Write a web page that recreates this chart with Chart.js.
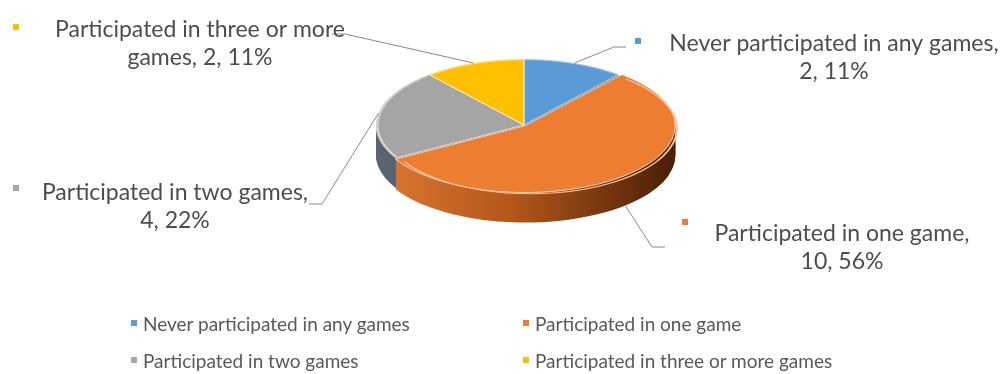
<!DOCTYPE html>
<html>
<head>
<meta charset="utf-8">
<script src="https://cdn.jsdelivr.net/npm/chart.js@4"></script>
<style>
  body { margin: 0; background: #fff; }
  .wrap { position: relative; width: 1000px; height: 374px; }
  #legend {
    position: absolute; left: 131px; top: 311px;
    display: grid; grid-template-columns: 392px auto; row-gap: 13px;
    font: 19px Lato, sans-serif; color: #595959;
  }
  .key { display: flex; align-items: center; height: 24px; white-space: nowrap; }
  .key i { width: 6px; height: 6px; margin-right: 6px; display: inline-block; }
</style>
</head>
<body>
<div class="wrap">
  <canvas id="pie"></canvas>
  <div id="legend"></div>
</div>
<script>
const categories = [
    "Never participated in any games",
    "Participated in one game",
    "Participated in two games",
    "Participated in three or more games",
];
const counts = [2, 10, 4, 2];
const colors = ["#5b9bd5", "#ed7d31", "#a5a5a5", "#ffc000"];
const rimColors = ["#9cc3e8", "#f8c09a", "#d2d2d2", "#ffe08a"];
const explode = [0, 8, 0, 0];

// pie tilt settings
const squash = 0.446;
const depth = 30;
const faceCenterY = 125;

// where each data label sits: text centre, key square, leader elbow
const labelSpots = [
    { tx: 834, ty: 44, mx: 638, my: 41, knee: [[614, 47], [626, 47]] },
    { tx: 842, ty: 234, mx: 685, my: 222, knee: [[652, 247], [665, 247]] },
    { tx: 175, ty: 193, mx: 16, my: 188, knee: [[322, 204], [309, 204]] },
    { tx: 200, ty: 30, mx: 16, my: 27, knee: [[345, 34], [332, 34]] },
];
const labelFont = "23px Lato, sans-serif";
const labelMaxWidth = 345;
const lineGap = 28;

const total = counts.reduce((a, b) => a + b, 0);

function wallFill(ctx, arc, i) {
    const r = arc.outerRadius;
    const g = ctx.createLinearGradient(arc.x - r, 0, arc.x + r, 0);
    if (i === 1) {
        g.addColorStop(0, "#dc7832");
        g.addColorStop(0.45, "#b4571b");
        g.addColorStop(1, "#4a1f06");
    } else if (i === 2) {
        g.addColorStop(0, "#5a6571");
        g.addColorStop(1, "#3b4a5a");
    } else if (i === 0) {
        g.addColorStop(0, "#3d6f9e");
        g.addColorStop(1, "#2c5479");
    } else {
        g.addColorStop(0, "#b88a00");
        g.addColorStop(1, "#8a6700");
    }
    return g;
}

// same shift that the arc element applies for its offset
function arcShift(arc, off) {
    const fix = 1 - Math.sin(Math.min(Math.PI, arc.circumference));
    return off / 4 + off * fix;
}

const tiltPlugin = {
    id: "tilt",
    beforeDatasetsDraw(chart) {
        const ctx = chart.ctx;
        const arcs = chart.getDatasetMeta(0).data;
        const cy = arcs[0].y;
        ctx.save();
        ctx.translate(0, faceCenterY);
        ctx.scale(1, squash);
        ctx.translate(0, -cy);
        // side walls: stacked copies of each slice pushed downwards
        for (let d = depth; d > 0; d--) {
            ctx.save();
            ctx.translate(0, d / squash);
            arcs.forEach((arc, i) => {
                const wall = Object.create(arc);
                wall.options = Object.assign({}, arc.options, {
                    backgroundColor: wallFill(ctx, arc, i),
                    borderWidth: 0,
                });
                wall.draw(ctx);
            });
            ctx.restore();
        }
    },
    afterDatasetsDraw(chart) {
        const ctx = chart.ctx;
        const arcs = chart.getDatasetMeta(0).data;
        // light bevel along the outer edge of each top face
        arcs.forEach((arc, i) => {
            const mid = (arc.startAngle + arc.endAngle) / 2;
            const s = arcShift(arc, explode[i]);
            ctx.save();
            ctx.translate(Math.cos(mid) * s, Math.sin(mid) * s);
            ctx.strokeStyle = rimColors[i];
            ctx.lineWidth = 2.2;
            ctx.beginPath();
            ctx.arc(arc.x, arc.y, arc.outerRadius - 1.5, arc.startAngle + 0.01, arc.endAngle - 0.01);
            ctx.stroke();
            ctx.restore();
        });
        ctx.restore();
    },
};

function wrapText(ctx, text, maxW) {
    const words = text.split(" ");
    const lines = [];
    let line = "";
    for (const w of words) {
        const test = line ? line + " " + w : w;
        if (line && ctx.measureText(test).width > maxW) {
            lines.push(line);
            line = w;
        } else {
            line = test;
        }
    }
    lines.push(line);
    return lines;
}

const labelPlugin = {
    id: "sliceLabels",
    afterDraw(chart) {
        const ctx = chart.ctx;
        const arcs = chart.getDatasetMeta(0).data;
        ctx.save();
        ctx.font = labelFont;
        arcs.forEach((arc, i) => {
            const spot = labelSpots[i];
            const mid = (arc.startAngle + arc.endAngle) / 2;
            const r = arc.outerRadius + arcShift(arc, explode[i]);
            const ax = arc.x + Math.cos(mid) * r;
            let ay = faceCenterY + Math.sin(mid) * r * squash;
            if (Math.sin(mid) > 0.2) ay += depth * 0.9;

            ctx.strokeStyle = "#8a8a8a";
            ctx.lineWidth = 1;
            ctx.beginPath();
            ctx.moveTo(ax, ay);
            spot.knee.forEach(p => ctx.lineTo(p[0], p[1]));
            ctx.stroke();

            ctx.fillStyle = colors[i];
            ctx.fillRect(spot.mx - 3, spot.my - 3, 6, 6);

            const pct = Math.round(counts[i] / total * 100);
            const text = `${categories[i]}, ${counts[i]}, ${pct}%`;
            const maxW = Math.min(ctx.measureText(categories[i] + ",").width + 2, labelMaxWidth);
            const lines = wrapText(ctx, text, maxW);
            ctx.fillStyle = "#4d4d4d";
            ctx.textAlign = "center";
            ctx.textBaseline = "middle";
            lines.forEach((ln, k) => ctx.fillText(ln, spot.tx, spot.ty + k * lineGap));
        });
        ctx.restore();
    },
};

new Chart(document.querySelector("#pie"), {
    type: "pie",
    data: {
        labels: categories,
        datasets: [
            {
                data: counts,
                backgroundColor: colors,
                borderColor: "#ffffff",
                borderWidth: 1,
                offset: explode,
                radius: 148,
            },
        ],
    },
    options: {
        responsive: true,
        maintainAspectRatio: false,
        animation: false,
        events: [],
        layout: { padding: { left: 48 } },
        plugins: {
            legend: { display: false },
            tooltip: { enabled: false },
        },
    },
    plugins: [tiltPlugin, labelPlugin],
});

const legend = document.querySelector("#legend");
categories.forEach((name, i) => {
    const item = document.createElement("div");
    item.className = "key";
    item.innerHTML = `<i style="background:${colors[i]}"></i>${name}`;
    legend.appendChild(item);
});
</script>
</body>
</html>
